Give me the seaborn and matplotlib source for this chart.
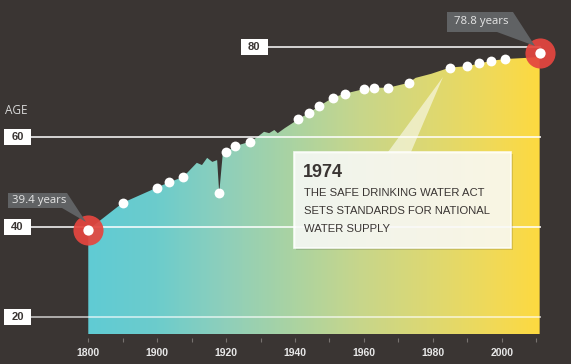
import numpy as np
import matplotlib
matplotlib.use('Agg')
import matplotlib.pyplot as plt
import matplotlib.patches as mpatches
from matplotlib.colors import LinearSegmentedColormap
import seaborn as sns

# US life expectancy
start_year, start_age = 1800, 39.4
end_year, end_age = 2011, 78.8

dot_years = [1850, 1900, 1903.5, 1907.5, 1918, 1920, 1922.5, 1927, 1941, 1944, 1947,
             1951, 1954.5, 1960, 1963, 1967, 1973, 1985, 1990, 1993.5, 1997, 2001]
dot_ages = [45.4, 48.8, 50.0, 51.1, 47.6, 56.6, 58.0, 59.0, 64.0, 65.4, 66.9,
            68.8, 69.7, 70.7, 71.0, 71.0, 72.1, 75.5, 75.8, 76.4, 77.0, 77.4]

# extra points on the jagged top edge of the area
edge_years = [1909, 1911.5, 1913, 1914.5, 1916, 1917.4, 1919, 1929, 1931, 1932.5,
              1934, 1935, 1937, 1975, 1979.5, 2006, 2010]
edge_ages = [52.3, 54.3, 53.8, 55.4, 54.5, 54.9, 56.0, 60.0, 61.2, 60.9,
             61.6, 60.9, 62.0, 73.2, 74.1, 77.6, 77.8]

age_ticks = [20, 40, 60, 80]
year_ticks = [1800, 1850, 1900, 1910, 1920, 1930, 1940, 1950, 1960, 1970, 1980, 1990, 2000, 2010]
year_labels = ['1800', '', '1900', '', '1920', '', '1940', '', '1960', '', '1980', '', '2000', '']

note_year = '1974'
note_lines = ['THE SAFE DRINKING WATER ACT', 'SETS STANDARDS FOR NATIONAL', 'WATER SUPPLY']

bg = '#3a3533'
sns.set_theme(style='dark', rc={'axes.facecolor': bg, 'figure.facecolor': bg})
plt.rcParams['font.family'] = ['Liberation Sans', 'DejaVu Sans']

W, H = 571, 364


def fwd(yr):
    yr = np.asarray(yr, dtype=float)
    return np.where(yr <= 1900, (yr - 1800) / 50, 2 + (yr - 1900) / 10)


def inv(p):
    p = np.asarray(p, dtype=float)
    return np.where(p <= 2, 1800 + 50 * p, 1900 + 10 * (p - 2))


def px(x, y):
    return (x / W, 1 - y / H)


fig = plt.figure(figsize=(W / 100, H / 100), dpi=100)
ax = fig.add_axes([0, 30 / H, 1, 334 / H])
ax.set_xscale('function', functions=(fwd, inv))
ax.set_xlim(1671.9, 2020.1)
ax.set_ylim(16.2, 90.53)
base = 16.2

# area
yrs = np.array([start_year] + dot_years + edge_years + [end_year], dtype=float)
ages = np.array([start_age] + dot_ages + edge_ages + [end_age], dtype=float)
order = np.argsort(yrs)
yrs, ages = yrs[order], ages[order]
area = ax.fill_between(yrs, base, ages, color='none', lw=0, zorder=1)

cmap = LinearSegmentedColormap.from_list('lifegrad', [
    (0.0, '#60cbd4'), (0.15, '#6ccccc'), (0.3, '#8ecfbb'), (0.45, '#aad3a2'),
    (0.6, '#c7d68b'), (0.75, '#dcd873'), (0.9, '#f1da57'), (1.0, '#fdd940')])
grad = np.linspace(0, 1, 300).reshape(1, -1)
img = ax.imshow(grad, cmap=cmap, aspect='auto', extent=(88 / W, 541 / W, 0, 1),
                transform=ax.transAxes, zorder=1)
img.set_clip_path(area.get_paths()[0], transform=ax.transData)

# gridlines and boxed age labels
ytr = ax.get_yaxis_transform()
for v in age_ticks:
    x0 = 267 if v == 80 else 30
    cx = 254 if v == 80 else 17.5
    alpha = 0.75 if v == 20 else 1.0
    ax.hlines(v, x0 / W, 541 / W, transform=ytr, color='white', lw=1.1, alpha=alpha, zorder=3)
    ax.add_patch(mpatches.Rectangle(((cx - 13.5) / W, v - 1.8), 27 / W, 3.6, transform=ytr,
                                    fc='white', ec='none', zorder=8))
    ax.text(cx / W, v, str(v), transform=ytr, ha='center', va='center', fontsize=8,
            fontweight='bold', color='#3a3533', zorder=9)

# dots
sns.scatterplot(x=dot_years, y=dot_ages, ax=ax, s=50, color='white', linewidth=0, zorder=6)
sns.scatterplot(x=[start_year, end_year], y=[start_age, end_age], ax=ax, s=470,
                color='#e4463f', alpha=0.93, linewidth=0, zorder=6)
sns.scatterplot(x=[start_year, end_year], y=[start_age, end_age], ax=ax, s=55,
                color='white', linewidth=0, zorder=7)

# axis styling
ax.set_xticks(year_ticks)
ax.set_xticklabels(year_labels)
ax.set_yticks([])
ax.set_xlabel('')
ax.set_ylabel('')
for s in ax.spines.values():
    s.set_visible(False)
ax.spines['bottom'].set_position(('outward', 3.1))
ax.tick_params(axis='x', bottom=True, length=3.2, width=0.8, color='#77726f', pad=3.6,
               labelsize=7.5, labelcolor='#e8e8e8')
for lab in ax.get_xticklabels():
    lab.set_fontweight('bold')
ax.grid(False)

fig.text(*px(5, 110), 'AGE', fontsize=8.5, color='#d9d9d9', va='center',
         family=['Open Sans', 'DejaVu Sans'])

# value callouts
gray = '#606264'
fig.add_artist(mpatches.Polygon([px(8, 193), px(67, 193), px(86, 222), px(62, 208), px(8, 208)],
                                closed=True, transform=fig.transFigure, fc=gray, ec='none', zorder=5))
fig.text(*px(12, 200.5), f'{start_age} years', fontsize=8.2, color='#e6e6e6', va='center',
         family=['Open Sans', 'DejaVu Sans'], zorder=6)
fig.add_artist(mpatches.Polygon([px(447, 12), px(513, 12), px(535, 46), px(497, 32), px(447, 32)],
                                closed=True, transform=fig.transFigure, fc=gray, ec='none', zorder=5))
fig.text(*px(454, 21.5), f'{end_age} years', fontsize=8.2, color='#e6e6e6', va='center',
         family=['Open Sans', 'DejaVu Sans'], zorder=6)

# 1974 note
fig.add_artist(mpatches.Polygon([px(443, 77), px(388, 152), px(411, 152)], closed=True,
                                transform=fig.transFigure, fc='white', ec='none', alpha=0.55, zorder=4))
fig.add_artist(mpatches.Rectangle(px(296, 250), 217 / W, 96 / H, transform=fig.transFigure,
                                  fc='black', ec='none', alpha=0.12, zorder=4))
fig.add_artist(mpatches.Rectangle(px(294, 248), 217 / W, 96 / H, transform=fig.transFigure,
                                  fc='white', ec='white', lw=1.2, alpha=0.85, zorder=4))
fig.text(*px(303, 177), note_year, fontsize=13, fontweight='bold', color='#3a3533',
         va='baseline', zorder=6)
for i, line in enumerate(note_lines):
    fig.text(*px(303.5, 196 + 17.8 * i), line, fontsize=8.1, color='#3a3533',
             va='baseline', zorder=6)

fig.savefig('out.png', dpi=100, facecolor=bg)
